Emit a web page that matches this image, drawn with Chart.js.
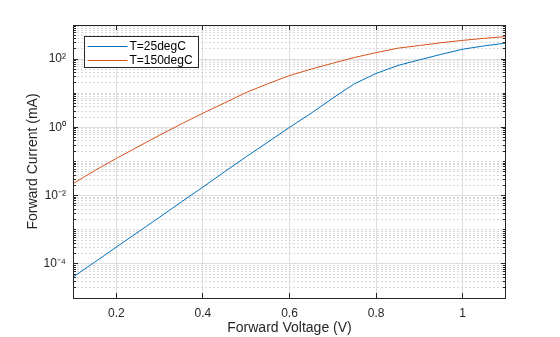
<!DOCTYPE html>
<html>
<head>
<meta charset="utf-8">
<script src="https://cdn.jsdelivr.net/npm/chart.js@4.4.0/dist/chart.umd.min.js"></script>
<style>
  html, body { margin: 0; padding: 0; background: #fff; }
  canvas { display: block; }
</style>
</head>
<body>
<canvas id="diodeChart" width="560" height="337"></canvas>
<script>
const voltage = [0.1, 0.15, 0.2, 0.25, 0.3, 0.35, 0.4, 0.45, 0.5, 0.55, 0.6,
	0.65, 0.7, 0.75, 0.8, 0.85, 0.9, 0.95, 1.0, 1.05, 1.1];
const current25 = [4.1e-5, 1.12e-4, 3.1e-4, 8.5e-4, 2.34e-3, 6.5e-3, 1.78e-2, 5.0e-2,
	0.138, 0.37, 1.0, 2.6, 7.2, 19, 38, 65, 95, 138, 195, 245, 295];
const current150 = [0.0224, 0.054, 0.123, 0.27, 0.59, 1.26, 2.6, 5.2, 10.5, 19, 33,
	51, 76, 112, 155, 209, 251, 302, 355, 407, 457];
const seriesLabels = ["T=25degC", "T=150degC"];
const seriesColors = ["#0072BD", "#D95319"];
const xTickValues = [0.2, 0.4, 0.6, 0.8, 1.0];
const xTickLabels = ["0.2", "0.4", "0.6", "0.8", "1"];
const yTickValues = [1e-4, 1e-2, 1e0, 1e2];
const yTickLabels = ["10⁻⁴", "10⁻²", "10⁰", "10²"];

// dotted minor grid: every n*10^k that is not a labelled decade
const yMinorValues = [];
for (let e = -5; e <= 2; e++) {
	for (let n = 1; n <= 9; n++) {
		const v = Number((n * Math.pow(10, e)).toPrecision(3));
		if (!yTickValues.includes(v)) yMinorValues.push(v);
	}
}
yMinorValues.push(1e3);

const textColor = "#262626";
const fontFamily = '"Liberation Sans", Arial, Helvetica, sans-serif';

const align = (p) => Math.round(p - 0.5) + 0.5;

// MATLAB style box, inward ticks and boxed legend
const matlabAxes = {
	id: "matlabAxes",
	afterDraw(chart) {
		const { ctx, chartArea: a, scales } = chart;
		const ys = scales.y;
		const xs = scales.x;
		ctx.save();
		ctx.strokeStyle = textColor;
		ctx.lineWidth = 1;
		ctx.beginPath();
		yMinorValues.concat(yTickValues).forEach((v) => {
			const len = yTickValues.includes(v) ? 5 : 3;
			const py = align(ys.getPixelForValue(v));
			ctx.moveTo(a.left, py);
			ctx.lineTo(a.left + len, py);
			ctx.moveTo(a.right, py);
			ctx.lineTo(a.right - len, py);
		});
		xTickValues.forEach((v) => {
			const px = align(xs.getPixelForValue(v));
			ctx.moveTo(px, a.bottom);
			ctx.lineTo(px, a.bottom - 5);
			ctx.moveTo(px, a.top);
			ctx.lineTo(px, a.top + 5);
		});
		ctx.stroke();
		const l = align(a.left), t = align(a.top);
		ctx.strokeRect(l, t, align(a.right) - l - 1, align(a.bottom) - t);

		// legend
		ctx.font = "12px " + fontFamily;
		const sets = chart.data.datasets;
		const tw = Math.max(...sets.map((d) => ctx.measureText(d.label).width));
		const lx = align(a.left + 11);
		const ly = align(a.top + 11);
		const w = Math.round(45 + tw + 6);
		const h = 31;
		ctx.fillStyle = "#fff";
		ctx.fillRect(lx, ly, w, h);
		ctx.strokeStyle = textColor;
		ctx.strokeRect(lx, ly, w, h);
		ctx.textBaseline = "middle";
		ctx.textAlign = "left";
		sets.forEach((d, i) => {
			const ry = Math.round(ly + 9 + i * 14.5) + 0.5;
			ctx.strokeStyle = d.borderColor;
			ctx.beginPath();
			ctx.moveTo(lx + 3, ry);
			ctx.lineTo(lx + 43, ry);
			ctx.stroke();
			ctx.fillStyle = "#000";
			ctx.fillText(d.label, lx + 45, ry);
		});
		ctx.restore();
	},
};

new Chart(document.getElementById("diodeChart"), {
	type: "line",
	data: {
		datasets: [
			{
				label: seriesLabels[0],
				data: voltage.map((v, i) => ({ x: v, y: current25[i] })),
				borderColor: seriesColors[0],
				yAxisID: "y",
			},
			{
				label: seriesLabels[1],
				data: voltage.map((v, i) => ({ x: v, y: current150[i] })),
				borderColor: seriesColors[1],
				yAxisID: "y",
			},
		],
	},
	options: {
		responsive: false,
		animation: false,
		layout: { padding: { top: 25, right: 54, left: 0, bottom: 0 } },
		plugins: { legend: { display: false }, tooltip: { enabled: false } },
		elements: {
			point: { radius: 0 },
			line: { borderWidth: 1, tension: 0 },
		},
		scales: {
			x: {
				type: "linear",
				min: 0.1,
				max: 1.1,
				afterBuildTicks: (s) => {
					s.ticks = xTickValues.map((v) => ({ value: v }));
				},
				afterFit: (s) => {
					s.height = 39;
				},
				ticks: {
					autoSkip: false,
					maxRotation: 0,
					padding: 8,
					color: textColor,
					font: { family: fontFamily, size: 12 },
					callback: (v, i) => xTickLabels[i],
				},
				grid: { color: "#dfdfdf", drawTicks: false },
				border: { display: false },
				title: {
					display: true,
					text: "Forward Voltage (V)",
					color: textColor,
					font: { family: fontFamily, size: 14 },
					padding: { top: 0, bottom: 0 },
				},
			},
			y: {
				type: "logarithmic",
				position: "left",
				min: 1e-5,
				max: 1e3,
				afterBuildTicks: (s) => {
					s.ticks = yTickValues.map((v) => ({ value: v }));
				},
				afterFit: (s) => {
					s.width = 73;
				},
				ticks: {
					autoSkip: false,
					padding: 7,
					color: textColor,
					font: { family: fontFamily, size: 12 },
					callback: (v, i) => yTickLabels[i],
				},
				grid: { color: "#dfdfdf", drawTicks: false },
				border: { display: false },
				title: {
					display: true,
					text: "Forward Current (mA)",
					color: textColor,
					font: { family: fontFamily, size: 14 },
					padding: { top: 25, bottom: 0 },
				},
			},
			yMinor: {
				type: "logarithmic",
				position: "left",
				min: 1e-5,
				max: 1e3,
				afterBuildTicks: (s) => {
					s.ticks = yMinorValues.map((v) => ({ value: v }));
				},
				afterFit: (s) => {
					s.width = 0;
				},
				ticks: { display: false },
				grid: { color: "#dadada", drawTicks: false },
				border: { display: false, dash: [2, 2] },
			},
		},
	},
	plugins: [matlabAxes],
});
</script>
</body>
</html>
